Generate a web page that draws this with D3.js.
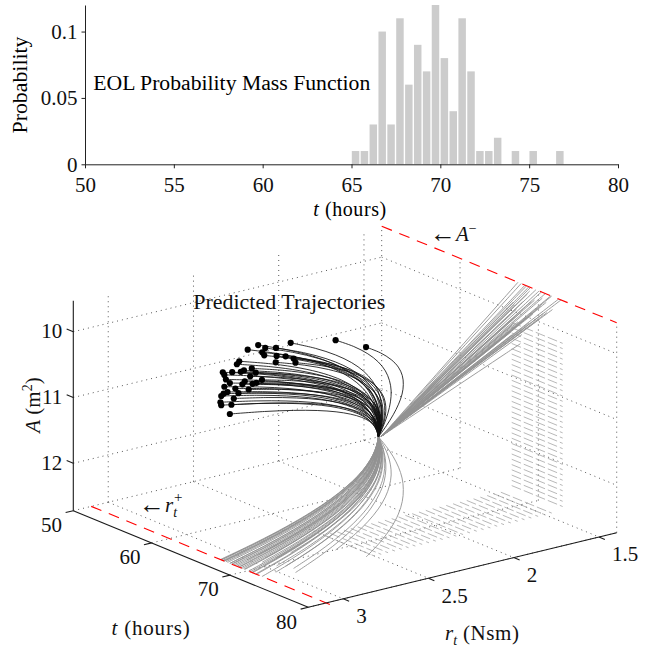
<!DOCTYPE html>
<html>
<head>
<meta charset="utf-8">
<script src="https://cdn.jsdelivr.net/npm/d3@7"></script>
<style>
  body { margin: 0; background: #fff; }
  svg { display: block; }
  svg text { font-family: 'Liberation Serif', 'DejaVu Serif', serif !important; }
</style>
</head>
<body>
<svg id="chart" width="657" height="650"></svg>
<script>
// ---------- histogram data (EOL pmf, 0.5 h bins) ----------
const binStart = [65, 65.5, 66, 66.5, 67, 67.5, 68, 68.5, 69, 69.5, 70, 70.5,
  71, 71.5, 72, 72.5, 73, 74, 75, 76.5];
const binProb = [0.01, 0.01, 0.03, 0.10, 0.03, 0.11, 0.06, 0.09, 0.07, 0.12, 0.08, 0.04,
  0.11, 0.07, 0.01, 0.01, 0.02, 0.01, 0.01, 0.01];
const BIN_WIDTH = 0.5;
const histTicksX = [50, 55, 60, 65, 70, 75, 80];
const histTicksY = [0, 0.05, 0.1];

// ---------- 3d plot data ----------
const tTicks = [50, 60, 70, 80];
const rTicks = [1.5, 2, 2.5, 3];
const aTicks = [10, 11, 12];

// axis limits
const T0 = 50, T1 = 80;
const R_MAX = 3.205, R_MIN = 1.396;
const A_MAX = 12.72, A_MIN = 9.53;

// thresholds
const R_PLUS = 3.1;
const A_MINUS = 9.53;

// state at prediction time
const r0 = 1.415, a0 = 12.72;

// end of life of each trajectory (t, r_t, A)
const eolT = [70.1, 72.9, 68.5, 67.4, 68.3, 67.8, 69.7, 70.4, 70.9, 71.7, 72.6, 71.6, 69.0, 68.8,
  68.9, 68.6, 69.1, 66.8, 67.0, 70.5, 70.3, 71.0, 71.8, 69.6, 71.1, 67.7, 67.0, 67.4, 68.4,
  70.1, 66.6, 68.2, 66.5, 66.6, 67.7, 67.2, 68.0, 69.3, 66.9, 68.8, 70.6, 67.9, 69.5];
const eolR = [2.59, 2.54, 2.78, 2.92, 2.92, 3.00, 2.99, 2.95, 2.92, 2.91, 2.94, 3.01, 2.97, 2.88,
  3.1, 3.1, 3.1, 3.1, 3.1, 3.1, 3.1, 3.1, 3.1, 3.1, 3.1, 3.1, 3.1, 3.1, 3.1,
  3.1, 3.1, 3.1, 3.1, 3.1, 3.1, 3.1, 3.1, 3.1, 3.1, 3.1, 3.1, 3.1, 3.1];
const eolA = [9.53, 9.53, 9.53, 9.53, 9.53, 9.53, 9.53, 9.53, 9.53, 9.53, 9.53, 9.53, 9.53, 9.53,
  9.59, 9.65, 9.74, 9.86, 9.89, 9.62, 9.75, 9.66, 9.73, 9.86, 9.81, 9.98, 10.07, 10.13, 10.03,
  9.96, 10.23, 10.19, 10.33, 10.37, 10.45, 9.95, 9.80, 9.92, 10.18, 10.08, 9.85, 10.30, 9.70];

// shape of the paths: share of the way done in t, r_t and A
const progress = [0, 0.1, 0.2, 0.3, 0.4, 0.5, 0.6, 0.7, 0.8, 0.9, 1];
const rShape = [0, 0.052, 0.110, 0.176, 0.251, 0.338, 0.437, 0.551, 0.682, 0.831, 1];
const aShape = [0, 0.1, 0.2, 0.3, 0.4, 0.5, 0.6, 0.7, 0.8, 0.9, 1];

// light hatching on right wall (A levels) and floor (r_t levels)
const hatchT = [66.6, 73.1];
const wallHatchA = [10.18, 10.26, 10.34, 10.42, 10.50, 10.58, 10.66, 10.74, 10.82, 10.90,
  10.98, 11.06, 11.14, 11.22, 11.30, 11.38, 11.46, 11.54, 11.62, 11.70, 11.78, 11.86,
  11.94, 12.02, 12.10, 12.18, 12.26, 12.34, 12.42, 12.50, 12.58, 12.66];
const floorHatchR = [1.46, 1.50, 1.54, 1.58, 1.62, 1.66, 1.70, 1.74, 1.78, 1.82, 1.86, 1.90,
  1.94, 1.98, 2.02, 2.06, 2.10, 2.14, 2.18, 2.22, 2.26, 2.30, 2.34, 2.38, 2.42, 2.46, 2.50];

const svg = d3.select('#chart');

// =================== histogram ===================
const hx = d3.scaleLinear().domain([50, 80]).range([85, 618]);
const hy = d3.scaleLinear().domain([0, 0.12]).range([164.3, 5]);

const hist = svg.append('g');

hist.selectAll('rect')
  .data(binStart)
  .join('rect')
    .attr('x', d => hx(d) + 0.3)
    .attr('y', (d, i) => hy(binProb[i]))
    .attr('width', d => hx(d + BIN_WIDTH) - hx(d) - 1.4)
    .attr('height', (d, i) => hy(0) - hy(binProb[i]))
    .attr('fill', '#cccccc');

const xAxis = d3.axisBottom(hx)
  .tickValues(histTicksX)
  .tickSize(4)
  .tickSizeOuter(0)
  .tickPadding(9)
  .tickFormat(d3.format('d'));

const yAxis = d3.axisLeft(hy)
  .tickValues(histTicksY)
  .tickSize(3.5)
  .tickSizeOuter(0)
  .tickPadding(4)
  .tickFormat(d => String(d));

[
  hist.append('g').attr('transform', 'translate(0,164.3)').call(xAxis),
  hist.append('g').attr('transform', 'translate(85,0)').call(yAxis),
].forEach(g => {
  g.attr('color', '#222').attr('font-family', null);
  g.selectAll('text')
    .attr('font-size', 21)
    .attr('fill', '#111');
});

hist.append('text')
  .attr('transform', 'translate(27,85) rotate(-90)')
  .attr('text-anchor', 'middle')
  .attr('font-size', 20)
  .attr('textLength', 97)
  .attr('lengthAdjust', 'spacingAndGlyphs')
  .text('Probability');

hist.append('text')
  .attr('x', 93.3)
  .attr('y', 89.5)
  .attr('font-size', 20)
  .attr('textLength', 277)
  .attr('lengthAdjust', 'spacingAndGlyphs')
  .text('EOL Probability Mass Function');

const hLab = hist.append('text')
  .attr('x', 350)
  .attr('y', 215.5)
  .attr('text-anchor', 'middle')
  .attr('font-size', 20)
  .attr('letter-spacing', 0.6);
hLab.append('tspan').attr('font-style', 'italic').text('t');
hLab.append('tspan').text(' (hours)');

// =================== 3d trajectories ===================
// each data axis goes to 0..1 along one edge of the box
const tS = d3.scaleLinear().domain([T0, T1]).range([0, 1]);
const rS = d3.scaleLinear().domain([R_MAX, R_MIN]).range([0, 1]);
const aS = d3.scaleLinear().domain([A_MAX, A_MIN]).range([0, 1]);

const ORIGIN = [73.3, 510.7];   // t=50, r=rmax, A=Amax
const ET = [235, 96.6];
const ER = [308.4, -74.6];
const EA = [0, -209.9];

function proj(t, r, a) {
  const u = tS(t), v = rS(r), w = aS(a);
  return [
    ORIGIN[0] + u * ET[0] + v * ER[0] + w * EA[0],
    ORIGIN[1] + u * ET[1] + v * ER[1] + w * EA[1],
  ];
}

const plot = svg.append('g');

function segment(g, p, q) {
  const a = proj(...p), b = proj(...q);
  return g.append('line')
    .attr('x1', a[0]).attr('y1', a[1])
    .attr('x2', b[0]).attr('y2', b[1]);
}

// grid on the three back planes
const grid = plot.append('g')
  .attr('stroke', '#444')
  .attr('stroke-width', 0.9)
  .attr('stroke-dasharray', '1,4');

rTicks.forEach(r => segment(grid, [T0, r, A_MAX], [T0, r, A_MIN]));
aTicks.forEach(a => segment(grid, [T0, R_MAX, a], [T0, R_MIN, a]));
tTicks.forEach(t => segment(grid, [t, R_MIN, A_MAX], [t, R_MIN, A_MIN]));
aTicks.forEach(a => segment(grid, [T0, R_MIN, a], [T1, R_MIN, a]));
tTicks.forEach(t => segment(grid, [t, R_MAX, A_MAX], [t, R_MIN, A_MAX]));
rTicks.forEach(r => segment(grid, [T0, r, A_MAX], [T1, r, A_MAX]));

// hatching
const hatch = plot.append('g')
  .attr('stroke', '#9a9a9a')
  .attr('stroke-width', 0.7)
  .attr('stroke-dasharray', '10,3');
wallHatchA.forEach(a => segment(hatch, [hatchT[0], R_MIN, a], [hatchT[1], R_MIN, a]));
floorHatchR.forEach(r => segment(hatch, [hatchT[0], r, A_MAX], [hatchT[1], r, A_MAX]));

// trajectories as 3d point lists
const trajectories = eolT.map((tE, i) => progress.map((s, k) => [
  T0 + s * (tE - T0),
  r0 + rShape[k] * (eolR[i] - r0),
  a0 + aShape[k] * (eolA[i] - a0),
]));

const line2d = d3.line().curve(d3.curveCatmullRom.alpha(0.5));

// projections on the r_t = min wall and on the floor
const shadows = plot.append('g')
  .attr('fill', 'none')
  .attr('stroke', '#929292')
  .attr('stroke-width', 0.9);

shadows.selectAll('path.wall')
  .data(trajectories)
  .join('path')
    .attr('class', 'wall')
    .attr('d', pts => line2d(pts.map(p => proj(p[0], R_MIN, p[2]))));

shadows.selectAll('path.floor')
  .data(trajectories)
  .join('path')
    .attr('class', 'floor')
    .attr('d', pts => line2d(pts.map(p => proj(p[0], p[1], A_MAX))));

// thresholds
const red = plot.append('g')
  .attr('stroke', '#ff0000')
  .attr('stroke-width', 1.1)
  .attr('stroke-dasharray', '11,8');
segment(red, [T0, R_MIN, A_MINUS], [T1, R_MIN, A_MINUS]);
segment(red, [T0, R_PLUS, A_MAX], [81.3, R_PLUS, A_MAX]);

// axes
const axes = plot.append('g')
  .attr('stroke', '#1a1a1a')
  .attr('stroke-width', 1.1);
segment(axes, [T0, R_MAX, A_MAX], [T0, R_MAX, A_MIN]);
segment(axes, [T0, R_MAX, A_MAX], [T1, R_MAX, A_MAX]);
segment(axes, [T1, R_MAX, A_MAX], [T1, R_MIN, A_MAX]);

aTicks.forEach(a => segment(axes, [T0, R_MAX, a], [T0 - 0.85, R_MAX, a]));
tTicks.forEach(t => segment(axes, [t, R_MAX, A_MAX], [t, R_MAX + 0.045, A_MAX]));
rTicks.forEach(r => segment(axes, [T1, r, A_MAX], [T1 + 0.75, r, A_MAX]));

// 3d trajectories
plot.append('g')
  .attr('fill', 'none')
  .attr('stroke', '#111')
  .attr('stroke-width', 0.85)
  .selectAll('path')
  .data(trajectories)
  .join('path')
    .attr('d', pts => line2d(pts.map(p => proj(...p))));

plot.append('g')
  .selectAll('circle')
  .data(eolT)
  .join('circle')
    .attr('cx', (d, i) => proj(d, eolR[i], eolA[i])[0])
    .attr('cy', (d, i) => proj(d, eolR[i], eolA[i])[1])
    .attr('r', 3.1)
    .attr('fill', '#000');

// tick labels
const labels = plot.append('g')
  .attr('font-size', 21)
  .attr('fill', '#111');

aTicks.forEach(a => {
  const p = proj(T0, R_MAX, a);
  labels.append('text')
    .attr('x', p[0] - 11).attr('y', p[1] - 1)
    .attr('dy', '0.35em')
    .attr('text-anchor', 'end')
    .text(a);
});
tTicks.forEach(t => {
  const p = proj(t, R_MAX, A_MAX);
  labels.append('text')
    .attr('x', p[0] - 21.7).attr('y', p[1] + 14)
    .attr('dy', '0.35em')
    .attr('text-anchor', 'middle')
    .text(t);
});
rTicks.forEach(r => {
  const p = proj(T1, r, A_MAX);
  labels.append('text')
    .attr('x', p[0] + 13).attr('y', p[1] + 17)
    .attr('dy', '0.35em')
    .text(r);
});

// axis titles
const aLab = labels.append('text')
  .attr('transform', 'translate(33,405) rotate(-90)')
  .attr('dy', '0.35em')
  .attr('text-anchor', 'middle');
aLab.append('tspan').attr('font-style', 'italic').text('A');
aLab.append('tspan').text(' (m');
aLab.append('tspan').attr('font-size', 14).attr('dy', -8).text('2');
aLab.append('tspan').attr('dy', 8).text(')');

const tLab = labels.append('text')
  .attr('x', 151).attr('y', 635)
  .attr('text-anchor', 'middle')
  .attr('letter-spacing', 0.8);
tLab.append('tspan').attr('font-style', 'italic').text('t');
tLab.append('tspan').text(' (hours)');

const rLab = labels.append('text')
  .attr('x', 445).attr('y', 640);
rLab.append('tspan').attr('font-style', 'italic').text('r');
rLab.append('tspan').attr('font-style', 'italic').attr('font-size', 14).attr('dy', 5).text('t');
rLab.append('tspan').attr('dy', -5).attr('letter-spacing', 0.6).text(' (Nsm)');

labels.append('text')
  .attr('x', 193.3).attr('y', 309)
  .attr('font-size', 20)
  .attr('textLength', 192)
  .attr('lengthAdjust', 'spacingAndGlyphs')
  .text('Predicted Trajectories');

const aMinus = labels.append('text')
  .attr('x', 430).attr('y', 241);
aMinus.append('tspan').attr('font-size', 26).attr('dy', 1).text('\u2190');
aMinus.append('tspan').attr('font-style', 'italic').attr('dy', -1).text('A');
aMinus.append('tspan').attr('font-size', 14).attr('dy', -8).text('\u2212');

const rPlus = labels.append('text')
  .attr('x', 139).attr('y', 512);
rPlus.append('tspan').attr('font-size', 26).attr('dy', 1).text('\u2190');
rPlus.append('tspan').attr('font-style', 'italic').attr('dy', -1).text('r');
rPlus.append('tspan').attr('font-style', 'italic').attr('font-size', 14).attr('dy', 5).text('t');
rPlus.append('tspan').attr('font-size', 15).attr('dx', -3).attr('dy', -15).text('+');
</script>
</body>
</html>
